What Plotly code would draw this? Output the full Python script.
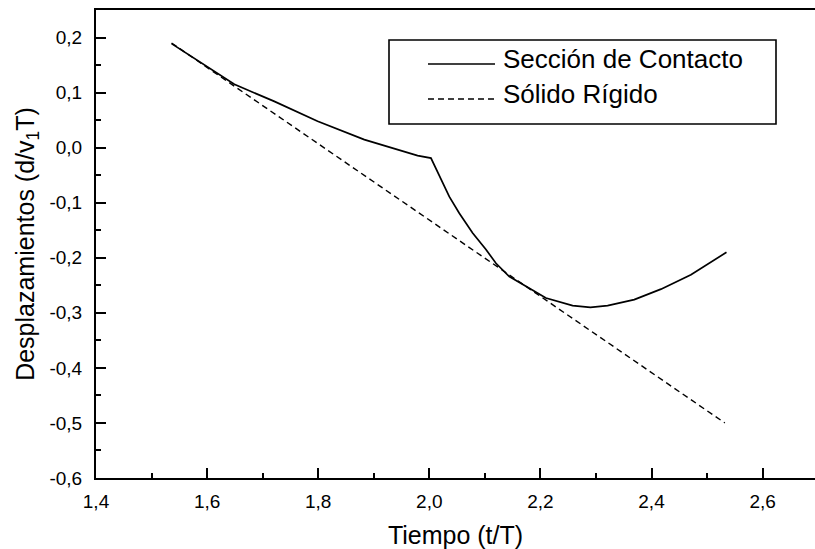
import plotly.graph_objects as go

# Contact-section displacement vs. time
t_contacto = [1.536, 1.598, 1.649, 1.721, 1.799, 1.883, 1.979, 2.003,
              2.018, 2.036, 2.054, 2.078, 2.102, 2.120, 2.144, 2.174,
              2.210, 2.258, 2.290, 2.321, 2.369, 2.417, 2.471, 2.535]
d_contacto = [0.189, 0.148, 0.115, 0.084, 0.048, 0.0145, -0.0145, -0.019,
              -0.052, -0.089, -0.119, -0.155, -0.185, -0.210, -0.234, -0.252,
              -0.273, -0.287, -0.290, -0.287, -0.276, -0.257, -0.231, -0.190]

# Rigid-body displacement (straight line)
t_rigido = [1.536, 2.532]
d_rigido = [0.190, -0.500]

x_ticks = [1.4, 1.6, 1.8, 2.0, 2.2, 2.4, 2.6]
x_ticktext = ["1,4", "1,6", "1,8", "2,0", "2,2", "2,4", "2,6"]
y_ticks = [0.2, 0.1, 0.0, -0.1, -0.2, -0.3, -0.4, -0.5, -0.6]
y_ticktext = ["0,2", "0,1", "0,0", "-0,1", "-0,2", "-0,3", "-0,4", "-0,5", "-0,6"]

serie_nombres = ["Sección de Contacto", "Sólido Rígido"]

FONT = "Liberation Sans, Arial, sans-serif"

fig = go.Figure()
fig.add_trace(go.Scatter(x=t_contacto, y=d_contacto, mode="lines",
                         line=dict(color="black", width=1.7),
                         name=serie_nombres[0], showlegend=False))
fig.add_trace(go.Scatter(x=t_rigido, y=d_rigido, mode="lines",
                         line=dict(color="black", width=1.4, dash="6px,4px"),
                         name=serie_nombres[1], showlegend=False))

# Plot area geometry (pixels)
L, R, T, B = 96, 0, 10, 71
W, H = 815, 549
pw, ph = W - L - R, H - T - B

def px(x):
    return (x - L) / pw

def py(y):
    return (H - B - y) / ph

# Legend frame, sample lines and labels
fig.add_shape(type="rect", xref="paper", yref="paper",
              x0=px(389), x1=px(776), y0=py(124), y1=py(40),
              line=dict(color="black", width=1.6), fillcolor="white", layer="below")
fig.add_shape(type="line", xref="paper", yref="paper",
              x0=px(428), x1=px(495), y0=py(64), y1=py(64),
              line=dict(color="black", width=1.7))
fig.add_shape(type="line", xref="paper", yref="paper",
              x0=px(428), x1=px(495), y0=py(99), y1=py(99),
              line=dict(color="black", width=1.4, dash="6px,4px"))
for nombre, yy in zip(serie_nombres, [59, 94]):
    fig.add_annotation(xref="paper", yref="paper", x=px(501), y=py(yy),
                       text=nombre, showarrow=False, xanchor="left", yanchor="middle",
                       font=dict(family=FONT, size=26, color="black"))

fig.update_layout(
    width=W, height=H,
    margin=dict(l=L, r=R, t=T, b=B, pad=0),
    paper_bgcolor="white", plot_bgcolor="white",
    font=dict(family=FONT, color="black"),
    xaxis=dict(range=[1.4, 1.4 + pw / 555.5], showgrid=False, zeroline=False,
               showline=True, linecolor="black", linewidth=2, mirror=True,
               ticks="inside", ticklen=10, tickwidth=2, tickcolor="black",
               tickvals=x_ticks, ticktext=x_ticktext,
               tickfont=dict(family=FONT, size=19), ticklabelstandoff=5,
               minor=dict(ticks="inside", ticklen=5, tickwidth=2,
                          tickcolor="black", dtick=0.1, showgrid=False),
               title=dict(text="Tiempo (t/T)", font=dict(family=FONT, size=25),
                          standoff=16)),
    yaxis=dict(range=[-0.6, 0.25], showgrid=False, zeroline=False,
               showline=True, linecolor="black", linewidth=2,
               ticks="inside", ticklen=10, tickwidth=2, tickcolor="black",
               tickvals=y_ticks, ticktext=y_ticktext,
               tickfont=dict(family=FONT, size=19), ticklabelstandoff=8,
               minor=dict(ticks="inside", ticklen=5, tickwidth=2,
                          tickcolor="black", dtick=0.05, showgrid=False),
               title=dict(text="Desplazamientos (d/v<sub>1</sub>T)",
                          font=dict(family=FONT, size=25), standoff=8)),
)

fig.write_html("out.html")
